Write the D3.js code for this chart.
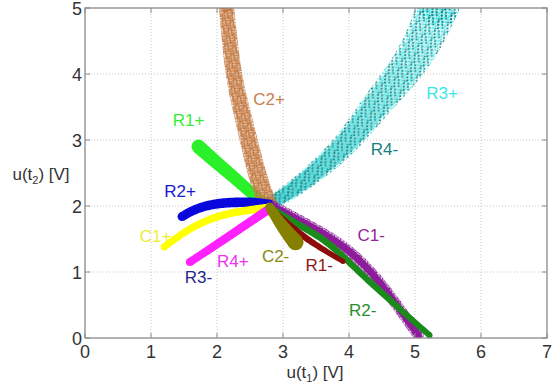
<!DOCTYPE html>
<html><head><meta charset="utf-8">
<script src="https://cdn.jsdelivr.net/npm/d3@7"></script>
<style>body{margin:0;background:#fff}svg{display:block}text{font-family:Arial,"Liberation Sans",sans-serif}</style>
</head><body><svg id="c" width="552" height="387"></svg>
<script>
// Tick labels
const xTicks = [0,1,2,3,4,5,6,7];
const yTicks = [0,1,2,3,4,5];
// Centerline points [u(t1), u(t2)] for each cluster
const ptsR3p = [[2.78,2.02],[3.15,2.24],[3.6,2.6],[4.02,3.0],[4.42,3.55],[4.9,4.1],[5.18,4.6],[5.36,5.05]];
const ptsC2p = [[2.14,5.05],[2.24,4.0],[2.36,3.5],[2.48,3.0],[2.6,2.5],[2.7,2.2],[2.78,2.0]];
const ptsR1p = [[1.72,2.9],[2.0,2.65],[2.3,2.4],[2.6,2.12],[2.78,2.02]];
const ptsR2p = [[1.47,1.84],[1.64,1.94],[1.85,2.01],[2.1,2.05],[2.4,2.06],[2.6,2.05],[2.8,2.02]];
const ptsC1p = [[1.2,1.38],[1.45,1.57],[1.74,1.74],[2.0,1.84],[2.24,1.9],[2.5,1.94],[2.8,1.98]];
const ptsR4p = [[1.59,1.15],[2.09,1.48],[2.5,1.76],[2.8,1.96]];
const ptsC2m = [[2.8,1.98],[2.88,1.85],[3.03,1.64],[3.19,1.45]];
const ptsR1m = [[2.82,1.93],[3.1,1.7],[3.41,1.46],[3.91,1.16]];
const ptsC1m = [[2.84,2.0],[3.41,1.7],[3.91,1.41],[4.32,1.03],[4.67,0.58],[5.05,0.04]];
const ptsR2m = [[2.84,1.95],[3.2,1.73],[3.67,1.48],[4.17,0.98],[4.67,0.53],[5.22,0.04]];
// Cluster labels and their anchor positions [u(t1), u(t2)]
const labels = ["R3+","R4-","C2+","R1+","R2+","C1+","R4+","C2-","R1-","C1-","R2-","R3-"];
const labelPos = [[5.17,3.62],[4.33,2.77],[2.55,3.53],[1.33,3.21],[1.2,2.13],[0.83,1.46],[2.0,1.07],[2.68,1.15],[3.34,1.02],[4.13,1.47],[4.0,0.34],[1.51,0.84]];

const W=552,H=387, m={l:85,r:5,t:8,b:49};
const svg=d3.select("#c");
const x=d3.scaleLinear().domain([0,7]).range([m.l,W-m.r]);
const y=d3.scaleLinear().domain([0,5]).range([H-m.b,m.t]);
const pw=W-m.r-m.l, ph=H-m.b-m.t;
const defs=svg.append("defs");

// speckle textures for the loose scatter clouds (decorative tiles)
function dotPattern(id,size,rot,r,cols,dots){
  const p=defs.append("pattern").attr("id",id).attr("patternUnits","userSpaceOnUse").attr("width",size).attr("height",size)
   .attr("patternTransform","rotate("+rot+")");
  dots.forEach((d,i)=>p.append("circle").attr("cx",d[0]).attr("cy",d[1]).attr("r",r).attr("fill",cols[i%cols.length]));
}
const tile=[[1,2],[4,1],[7,3],[9.2,0.6],[2,5],[5.2,4.6],[8,6.2],[0.6,8],[3.2,7.6],[6,8.6],[9,9.3],[4.6,6.6],[6.6,0.4],[0.4,3.8]];
dotPattern("pCyan",10,21,1.0,["#0f8f8f","#3aeeee","#0a7c7c","#5af2f2"],tile);
dotPattern("pBrown",8,13,1.05,["#b86a32","#c98048"],tile.map(d=>[d[0]*0.8,d[1]*0.8]));
dotPattern("pPurple",7,29,0.9,["#7a0a88","#a23cb2"],tile.map(d=>[d[0]*0.7,d[1]*0.7]));
// fading fill along the R3+/R4- cloud (dense near the centre, sparse at the top)
const gr=defs.append("linearGradient").attr("id","gCyan").attr("gradientUnits","userSpaceOnUse")
 .attr("x1",x(2.8)).attr("y1",y(2.0)).attr("x2",x(5.36)).attr("y2",y(5.05));
gr.append("stop").attr("offset",0).attr("stop-color","#2ab4b4").attr("stop-opacity",0.85);
gr.append("stop").attr("offset",0.45).attr("stop-color","#3cc4c4").attr("stop-opacity",0.55);
gr.append("stop").attr("offset",1).attr("stop-color","#6ad8d8").attr("stop-opacity",0.18);

// grid
const g=svg.append("g");
g.selectAll("line.gx").data(xTicks.slice(1,-1)).join("line").attr("class","gx").attr("x1",d=>x(d)).attr("x2",d=>x(d)).attr("y1",m.t).attr("y2",H-m.b)
 .attr("stroke","#c8c8c8").attr("stroke-dasharray","1,2");
g.selectAll("line.gy").data(yTicks.slice(1,-1)).join("line").attr("class","gy").attr("y1",d=>y(d)).attr("y2",d=>y(d)).attr("x1",m.l).attr("x2",W-m.r)
 .attr("stroke","#c8c8c8").attr("stroke-dasharray","1,2");

svg.append("clipPath").attr("id","pc").append("rect").attr("x",m.l).attr("y",m.t).attr("width",pw).attr("height",ph);
const pl=svg.append("g").attr("clip-path","url(#pc)");
const line=d3.line().x(d=>x(d[0])).y(d=>y(d[1])).curve(d3.curveBasis);

// band polygon with width varying from w0 (first point) to w1 (last point)
function band(pts,fill,w0,w1,op){
  const tmp=svg.append("path").attr("d",line(pts)).attr("fill","none");
  const node=tmp.node(), L=node.getTotalLength(), N=90;
  const s=d3.range(N+1).map(i=>node.getPointAtLength(L*i/N));
  tmp.remove();
  const left=[],right=[];
  s.forEach((p,i)=>{
    const a=s[Math.max(0,i-1)], b=s[Math.min(N,i+1)];
    let dx=b.x-a.x, dy=b.y-a.y; const n=Math.hypot(dx,dy)||1; dx/=n; dy/=n;
    const hw=(w0+(w1-w0)*i/N)/2;
    left.push([p.x-dy*hw,p.y+dx*hw]); right.push([p.x+dy*hw,p.y-dx*hw]);
  });
  const poly=left.concat(right.reverse());
  const gg=pl.append("g").attr("opacity",op);
  gg.append("path").attr("d","M"+poly.map(p=>p.join(",")).join("L")+"Z").attr("fill",fill);
  gg.append("circle").attr("cx",s[0].x).attr("cy",s[0].y).attr("r",w0/2).attr("fill",fill);
  gg.append("circle").attr("cx",s[N].x).attr("cy",s[N].y).attr("r",w1/2).attr("fill",fill);
}
// R3+ / R4- cloud
band(ptsR3p,"url(#gCyan)",12,34,1);
band(ptsR3p,"url(#pCyan)",14,42,1);
// left-hand clusters
band(ptsR1p,"#2af02a",14,11,1);
band(ptsC2p,"#cf8a55",12,16,0.55);
band(ptsC2p,"url(#pBrown)",15,19,1);
band(ptsR2p,"#0808dc",9,10,1);
band(ptsC1p,"#ffff00",7,8,1);
band(ptsR4p,"#ff22ff",8,9,1);
// right-hand clusters
band(ptsC1m,"url(#pPurple)",11,11,1);
band(ptsC1m,"#8c1c9a",7,7,1);
band(ptsR2m,"#1a8a1a",7,6,1);
band(ptsR1m,"#8b0a0a",8,5,1);
band(ptsC2m,"#858000",9,16,1);

// frame
svg.append("rect").attr("x",m.l).attr("y",m.t).attr("width",pw).attr("height",ph).attr("fill","none").attr("stroke","#8a8a8a").attr("stroke-width",1.3);
// ticks (inside)
const tk="#8a8a8a";
svg.selectAll("line.tx").data(xTicks).join("line").attr("class","tx").attr("x1",d=>x(d)).attr("x2",d=>x(d)).attr("y1",H-m.b).attr("y2",H-m.b-5).attr("stroke",tk);
svg.selectAll("line.tx2").data(xTicks).join("line").attr("class","tx2").attr("x1",d=>x(d)).attr("x2",d=>x(d)).attr("y1",m.t).attr("y2",m.t+5).attr("stroke",tk);
svg.selectAll("line.ty").data(yTicks).join("line").attr("class","ty").attr("y1",d=>y(d)).attr("y2",d=>y(d)).attr("x1",m.l).attr("x2",m.l+5).attr("stroke",tk);
svg.selectAll("line.ty2").data(yTicks).join("line").attr("class","ty2").attr("y1",d=>y(d)).attr("y2",d=>y(d)).attr("x1",W-m.r).attr("x2",W-m.r-5).attr("stroke",tk);
// tick labels
svg.selectAll("text.lx").data(xTicks).join("text").attr("class","lx").attr("x",d=>x(d)).attr("y",H-m.b+20).attr("text-anchor","middle")
 .attr("font-size",18).attr("fill","#333").text(d=>d);
svg.selectAll("text.ly").data(yTicks).join("text").attr("class","ly").attr("x",m.l-3).attr("y",d=>y(d)+7).attr("text-anchor","end")
 .attr("font-size",18).attr("fill","#333").text(d=>d);
// axis labels
const xl=svg.append("text").attr("x",315).attr("y",378).attr("text-anchor","middle").attr("font-size",17).attr("fill","#333");
xl.append("tspan").text("u(t");xl.append("tspan").attr("font-size",11).attr("dy",4).text("1");xl.append("tspan").attr("dy",-4).text(") [V]");
const yl=svg.append("text").attr("x",41).attr("y",180).attr("text-anchor","middle").attr("font-size",17).attr("fill","#333");
yl.append("tspan").text("u(t");yl.append("tspan").attr("font-size",11).attr("dy",4).text("2");yl.append("tspan").attr("dy",-4).text(") [V]");

// cluster labels
const labelColor=["#3ae8e8","#1a7f80","#c8804e","#33ee33","#1818d0","#eeee30","#ee33ee","#8a8a10","#901818","#992299","#2a8f2a","#26268a"];
svg.selectAll("text.cl").data(labels).join("text").attr("class","cl").attr("x",(d,i)=>x(labelPos[i][0])).attr("y",(d,i)=>y(labelPos[i][1]))
 .attr("font-size",17).attr("fill",(d,i)=>labelColor[i]).text(d=>d);
</script></body></html>
